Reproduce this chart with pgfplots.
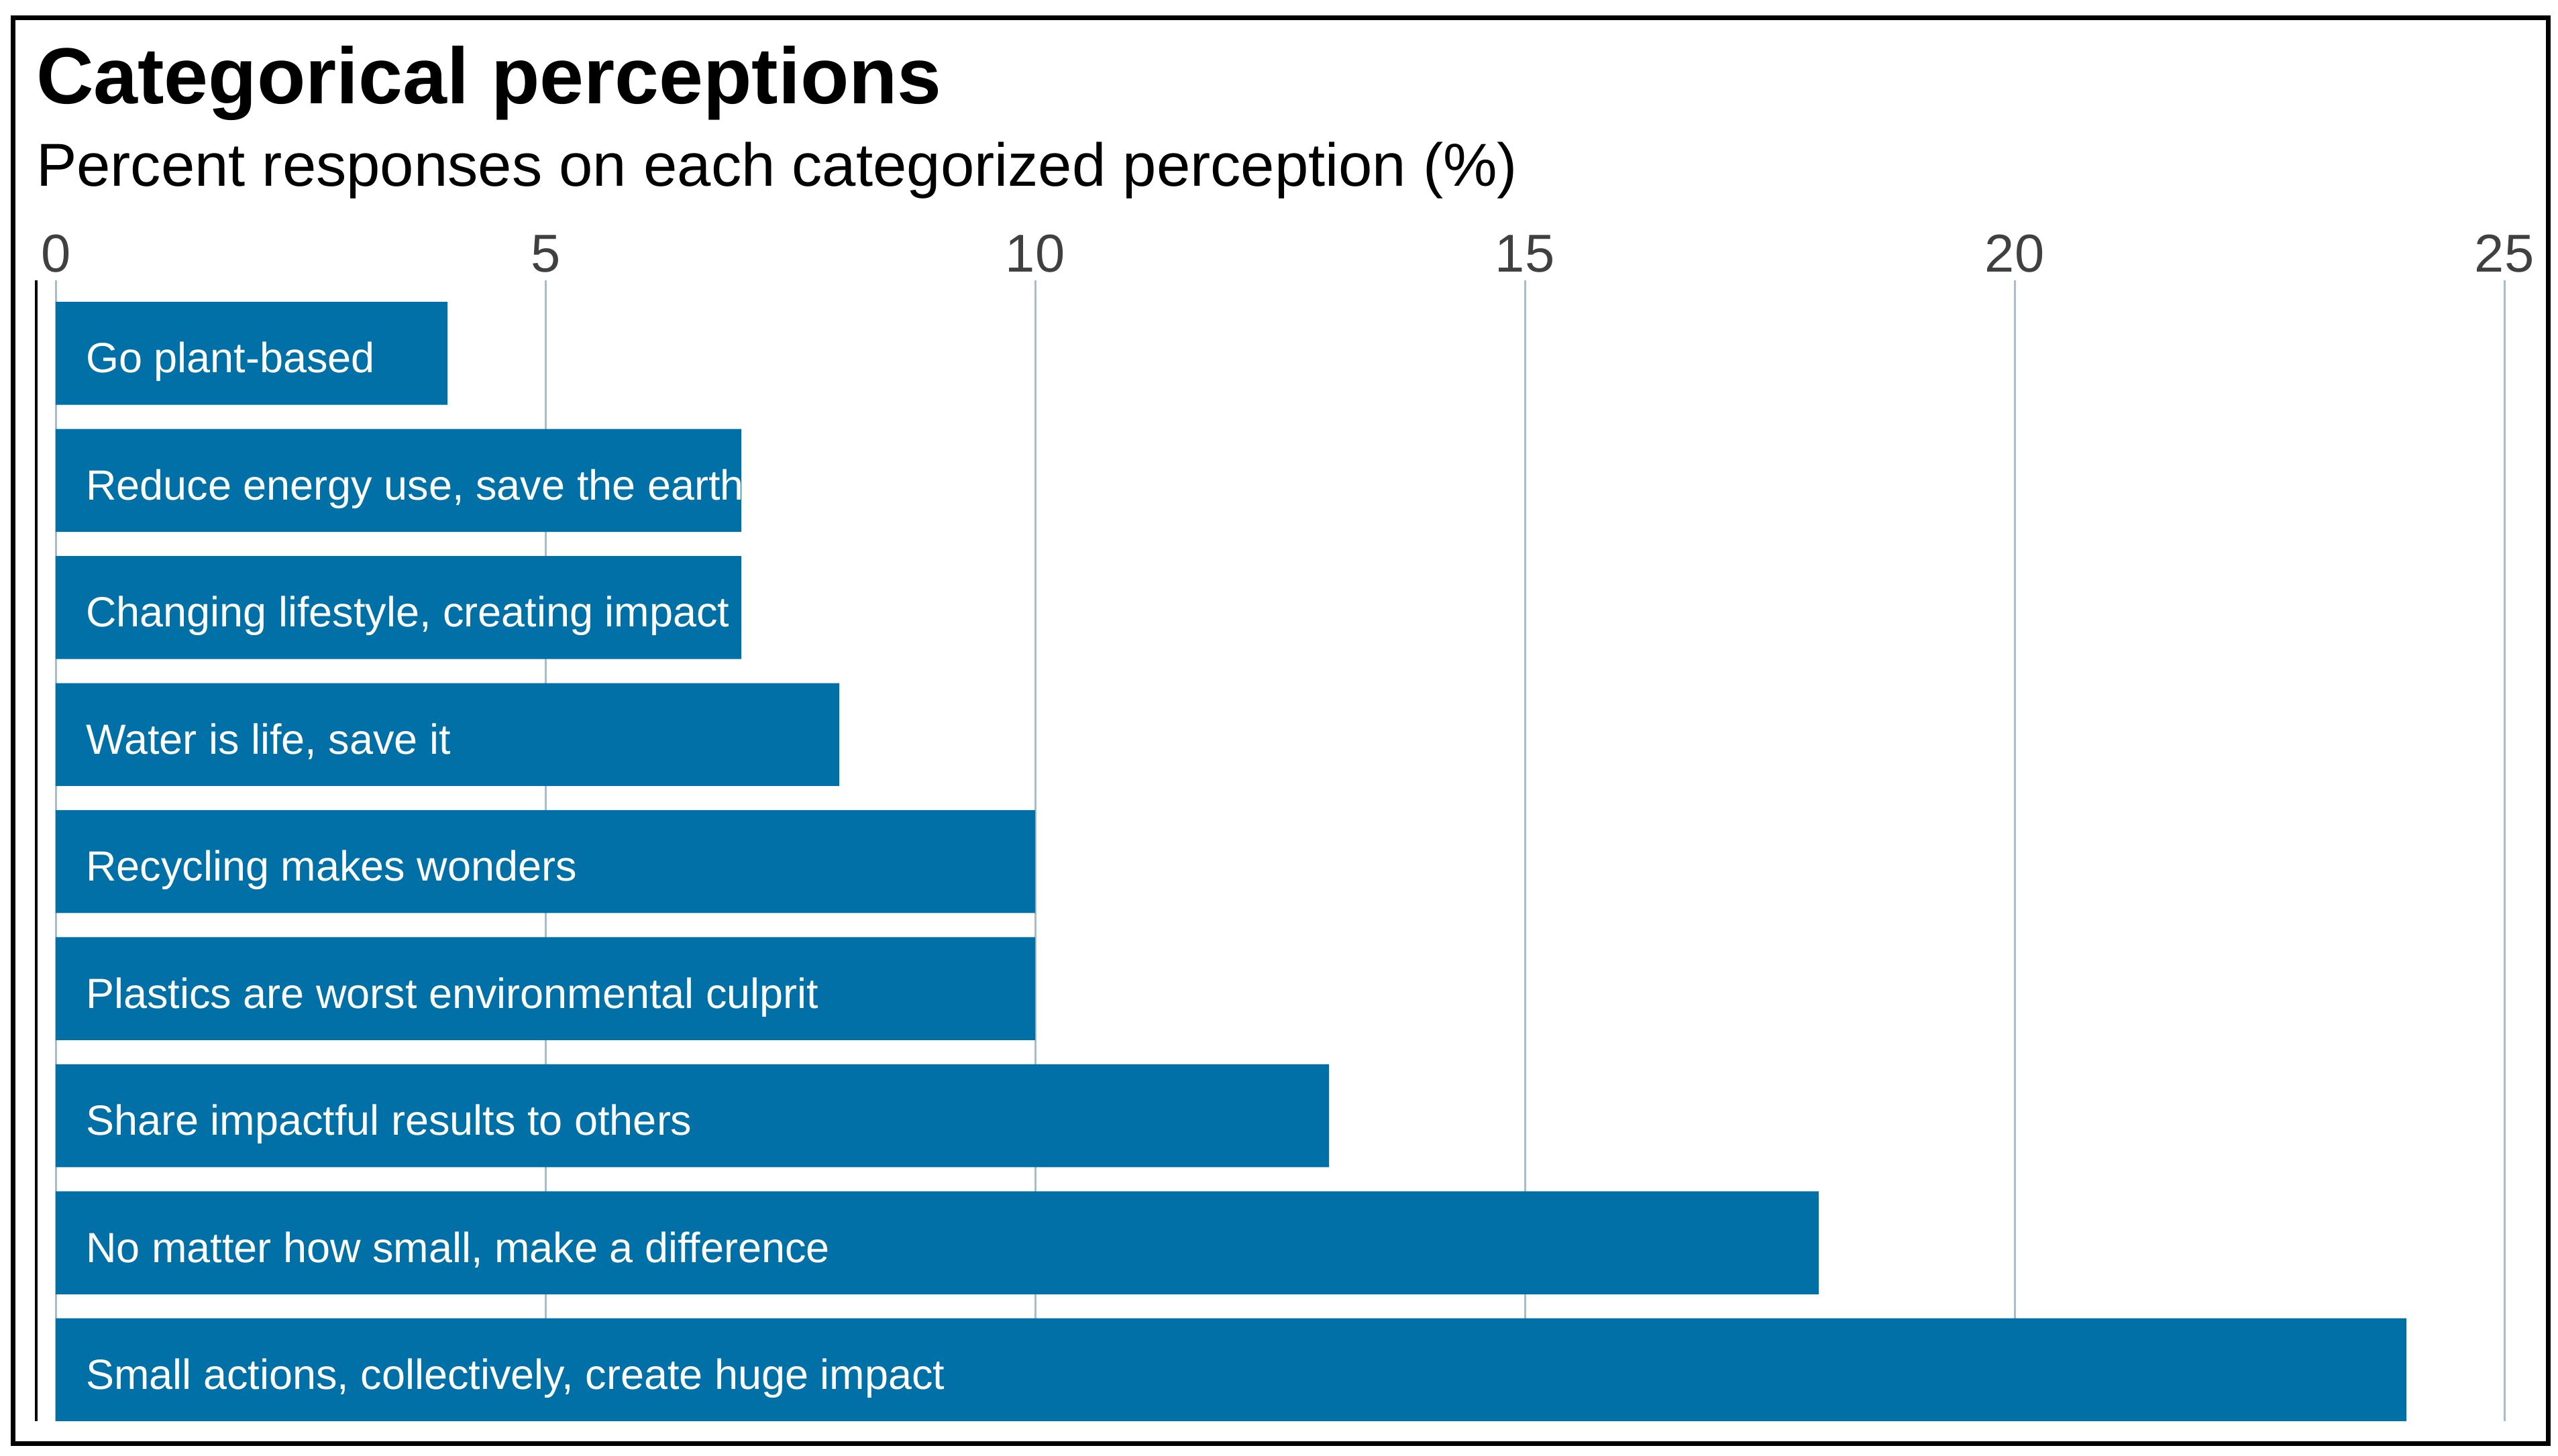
\documentclass[border=0pt]{standalone}
\usepackage{pgfplots}
\usepackage{pgfplotstable}
\usepackage{fontspec}
\pgfplotsset{compat=1.18}
\setmainfont{Liberation Sans}

\definecolor{barblue}{HTML}{0070A6}
\definecolor{gridc}{HTML}{A8BDCA}
\definecolor{tickc}{HTML}{404040}

% y = 8 is the top bar
\pgfplotstableread[col sep=semicolon]{
y;value;start;label
8;4;0;Go plant-based
7;7;0;Reduce energy use, save the earth
6;7;0;Changing lifestyle, creating impact
5;8;0;Water is life, save it
4;10;0;Recycling makes wonders
3;10;0;Plastics are worst environmental culprit
2;13;0;Share impactful results to others
1;18;0;No matter how small, make a difference
0;24;0;Small actions, collectively, create huge impact
}\perceptions

\begin{document}
\begin{tikzpicture}
\path[use as bounding box] (0,0) rectangle (762.6pt,434pt);
\draw[line width=1.4pt] (3.8pt,3.6pt) rectangle (759.6pt,428.7pt);

\node[anchor=base west, inner sep=0pt, font=\fontsize{23.7}{28}\selectfont\bfseries]
  at (10.6pt,403pt) {Categorical perceptions};
\node[anchor=base west, inner sep=0pt, font=\fontsize{18.1}{22}\selectfont]
  at (10.6pt,378.4pt) {Percent responses on each categorized perception (\%)};

\begin{axis}[
    at={(10.8pt,10.2pt)}, anchor=south west,
    scale only axis,
    width=735.8pt, height=340.2pt,
    xmin=-0.2, xmax=25,
    ymin=-0.404, ymax=8.575,
    axis x line*=top,
    axis y line*=left,
    x axis line style={draw=none},
    y axis line style={-, black, line width=0.7pt},
    xtick={0,5,10,15,20,25},
    ytick=\empty,
    major tick length=0pt,
    xmajorgrids,
    grid style={gridc, line width=0.6pt},
    /pgf/number format/assume math mode=true,
    xticklabel style={anchor=base, yshift=2.4pt, text=tickc,
        font=\fontsize{15.9}{19}\selectfont},
    clip=false,
]
\addplot[xbar, bar width=0.81, fill=barblue, draw=none]
    table[x=value, y=y] {\perceptions};
\addplot[draw=none, nodes near coords, point meta=explicit symbolic,
    every node near coord/.append style={anchor=base west, inner sep=0pt,
        xshift=8.8pt, yshift=-5.8pt, text=white,
        font=\fontsize{12.6}{15}\selectfont}]
    table[x=start, y=y, meta=label] {\perceptions};
\end{axis}
\end{tikzpicture}
\end{document}
